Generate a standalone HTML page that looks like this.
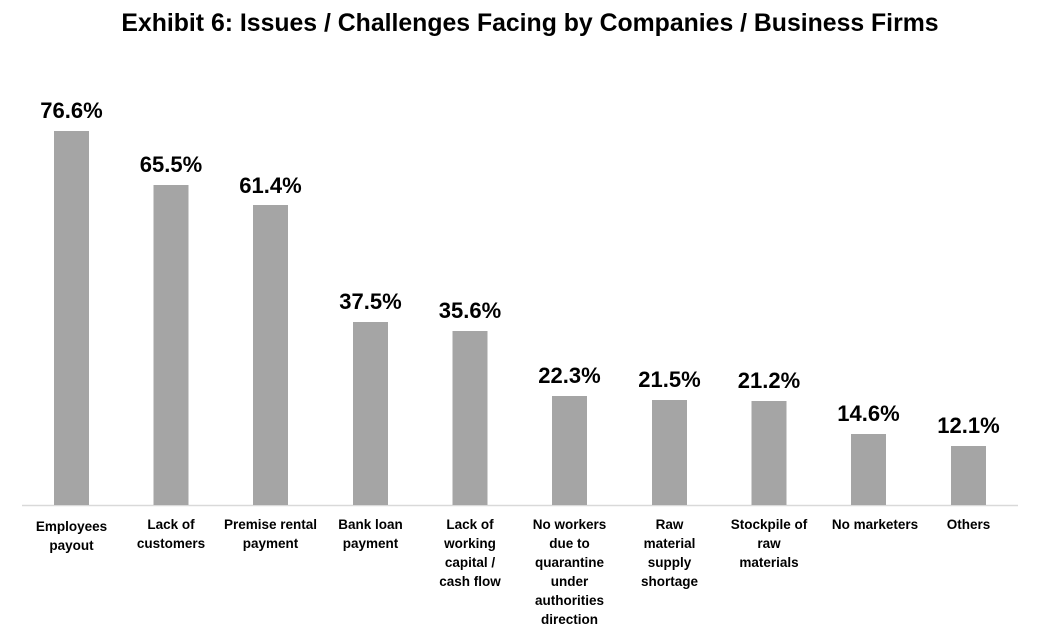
<!DOCTYPE html>
<html><head><style>
body{margin:0;background:#fff;}
svg{display:block;font-family:"Liberation Sans",Arial,sans-serif;}
.v{font-size:22px;font-weight:bold;text-anchor:middle;fill:#000}
.c{font-size:13.5px;font-weight:bold;text-anchor:middle;fill:#000}
</style></head><body>
<svg width="1060" height="632" viewBox="0 0 1060 632">
<text x="530" y="31" text-anchor="middle" font-size="24.8" font-weight="bold">Exhibit 6: Issues / Challenges Facing by Companies / Business Firms</text>
<line x1="22" y1="505.5" x2="1018" y2="505.5" stroke="#d9d9d9" stroke-width="1.5"/>
<g fill="#a5a5a5">
<rect x="54" y="131" width="35" height="374"/>
<rect x="153.5" y="185" width="35" height="320"/>
<rect x="253" y="205" width="35" height="300"/>
<rect x="353" y="322" width="35" height="183"/>
<rect x="452.5" y="331" width="35" height="174"/>
<rect x="552" y="396" width="35" height="109"/>
<rect x="652" y="400" width="35" height="105"/>
<rect x="751.5" y="401" width="35" height="104"/>
<rect x="851" y="434" width="35" height="71"/>
<rect x="951" y="446" width="35" height="59"/>
</g>
<g class="v">
<text class="v" x="71.5" y="118">76.6%</text>
<text class="v" x="171" y="172">65.5%</text>
<text class="v" x="270.5" y="193">61.4%</text>
<text class="v" x="370.5" y="309">37.5%</text>
<text class="v" x="470" y="318">35.6%</text>
<text class="v" x="569.5" y="383">22.3%</text>
<text class="v" x="669.5" y="387">21.5%</text>
<text class="v" x="769" y="388">21.2%</text>
<text class="v" x="868.5" y="421">14.6%</text>
<text class="v" x="968.5" y="433">12.1%</text>
</g>
<g class="c">
<text class="c" x="71.5" y="531">Employees<tspan x="71.5" dy="19">payout</tspan></text>
<text class="c" x="171" y="529">Lack of<tspan x="171" dy="19">customers</tspan></text>
<text class="c" x="270.5" y="529">Premise rental<tspan x="270.5" dy="19">payment</tspan></text>
<text class="c" x="370.5" y="529">Bank loan<tspan x="370.5" dy="19">payment</tspan></text>
<text class="c" x="470" y="529">Lack of<tspan x="470" dy="19">working</tspan><tspan x="470" dy="19">capital /</tspan><tspan x="470" dy="19">cash flow</tspan></text>
<text class="c" x="569.5" y="529">No workers<tspan x="569.5" dy="19">due to</tspan><tspan x="569.5" dy="19">quarantine</tspan><tspan x="569.5" dy="19">under</tspan><tspan x="569.5" dy="19">authorities</tspan><tspan x="569.5" dy="19">direction</tspan></text>
<text class="c" x="669.5" y="529">Raw<tspan x="669.5" dy="19">material</tspan><tspan x="669.5" dy="19">supply</tspan><tspan x="669.5" dy="19">shortage</tspan></text>
<text class="c" x="769" y="529">Stockpile of<tspan x="769" dy="19">raw</tspan><tspan x="769" dy="19">materials</tspan></text>
<text class="c" x="875" y="529">No marketers</text>
<text class="c" x="968.5" y="529">Others</text>
</g>
</svg>
</body></html>
